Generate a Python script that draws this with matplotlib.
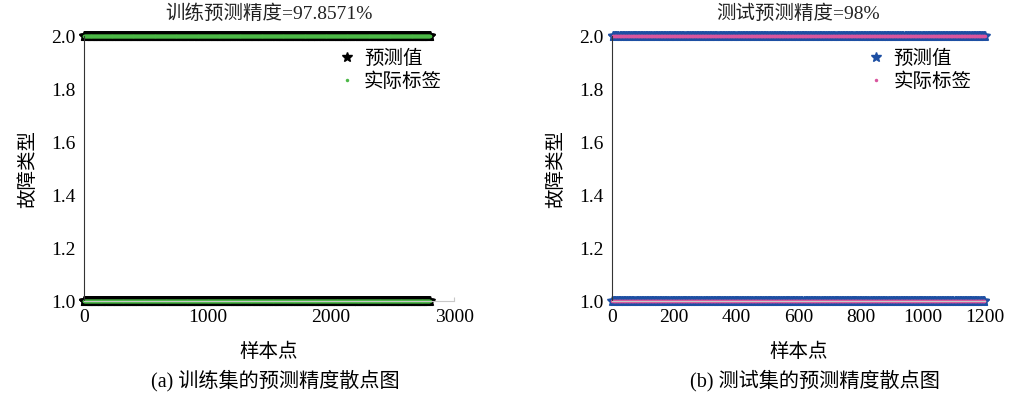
import numpy as np
import matplotlib
matplotlib.use('Agg')
from matplotlib import pyplot as plt

plt.rcParams['font.family'] = ['Liberation Serif', 'Noto Sans CJK SC']
plt.rcParams['axes.unicode_minus'] = False

# 训练集 / 测试集 样本数
n_train = 2800
n_test = 1200

# 实际标签的类别排列 (两类交替出现)
label_pattern = [1, 2]

# 预测错误的样本编号
train_wrong = [35, 118, 204, 267, 331, 402, 466, 519, 577, 640,
               702, 755, 813, 869, 934, 990, 1047, 1102, 1160, 1213,
               1271, 1330, 1388, 1441, 1497, 1552, 1609, 1666, 1721, 1779,
               1836, 1890, 1945, 2003, 2058, 2111, 2169, 2226, 2283, 2339,
               2394, 2452, 2507, 2563, 2618, 2675, 2731, 2788, 91, 449,
               863, 1255, 1573, 1917, 2215, 2477, 2699, 152, 1008, 2420]
test_wrong = [21, 74, 129, 186, 233, 288, 341, 397, 452, 505,
              561, 614, 668, 721, 777, 830, 886, 939, 993, 1046,
              1100, 1153, 581, 1182]

train_acc = '97.8571%'
test_acc = '98%'


def make_labels(n, wrong):
    actual = np.tile(label_pattern, n // len(label_pattern))
    pred = actual.copy()
    pred[wrong] = 3 - pred[wrong]
    return actual, pred


def scatter_panel(ax, actual, pred, star_color, dot_color, title, xmax, xticks):
    x = np.arange(1, len(actual) + 1)
    ax.plot(x, pred, linestyle='none', marker='*', markersize=7.5,
            color=star_color, label='预测值', clip_on=False)
    ax.plot(x, actual, linestyle='none', marker='o', markersize=2.5,
            markeredgewidth=0, color=dot_color, label='实际标签', clip_on=False)
    ax.set_xlim(0, xmax)
    ax.set_ylim(1, 2)
    ax.set_xticks(xticks)
    ax.set_yticks([1.0, 1.2, 1.4, 1.6, 1.8, 2.0])
    ax.set_yticklabels(['1.0', '1.2', '1.4', '1.6', '1.8', '2.0'])
    ax.tick_params(axis='both', labelsize=14, direction='in')
    ax.tick_params(axis='y', length=0, pad=6)
    ax.tick_params(axis='x', length=3, color='#c8c8c8', pad=6)
    ax.spines['top'].set_visible(False)
    ax.spines['right'].set_visible(False)
    ax.spines['left'].set_color('#333333')
    ax.spines['bottom'].set_color('#c8c8c8')
    ax.set_title(title, fontsize=14, pad=12, color='#222222')
    ax.set_xlabel('样本点', fontsize=14, labelpad=12)
    ax.set_ylabel('故障类型', fontsize=14, labelpad=10)
    ax.legend(loc='upper left', bbox_to_anchor=(0.63, 1.015), frameon=False,
              fontsize=14, handletextpad=0.3, labelspacing=0.25,
              handlelength=1.2, markerscale=1.0)


fig = plt.figure(figsize=(10.1, 4.01), dpi=100)
ax1 = fig.add_axes([0.083, 0.249, 0.367, 0.661])
ax2 = fig.add_axes([0.606, 0.249, 0.369, 0.661])

train_actual, train_pred = make_labels(n_train, train_wrong)
test_actual, test_pred = make_labels(n_test, test_wrong)

scatter_panel(ax1, train_actual, train_pred, 'black', '#4cb847',
              '训练预测精度=' + train_acc, 3000, [0, 1000, 2000, 3000])
scatter_panel(ax2, test_actual, test_pred, '#1d4fa3', '#d9559e',
              '测试预测精度=' + test_acc, 1200, [0, 200, 400, 600, 800, 1000, 1200])

fig.text(0.273, 0.035, '(a) 训练集的预测精度散点图', ha='center', fontsize=14.5)
fig.text(0.807, 0.035, '(b) 测试集的预测精度散点图', ha='center', fontsize=14.5)

fig.savefig('out.png', dpi=100)
